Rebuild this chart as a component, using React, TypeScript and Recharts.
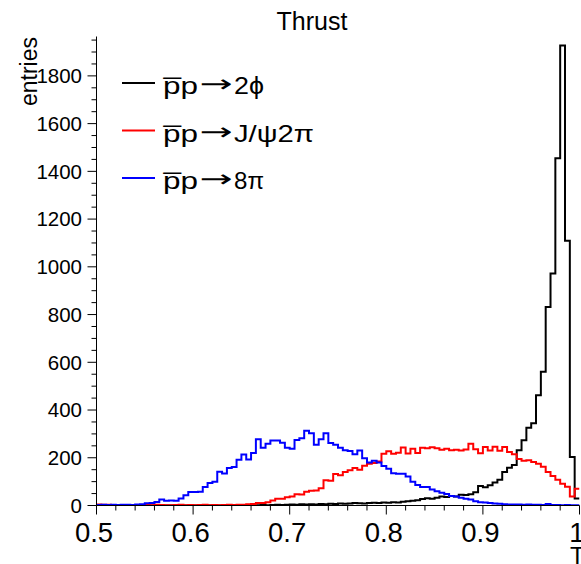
import React from 'react';
import { LineChart, Line, XAxis, YAxis, Legend } from 'recharts';

// ---------- data ----------
const chartTitle = 'Thrust';
const xTitle = 'Thrust';
const yTitle = 'entries';

const seriesNames = ['p\u0305p\u21922\u03d5', 'p\u0305p\u2192J/\u03c82\u03c0', 'p\u0305p\u21928\u03c0'];
const seriesColors = ['#000000', '#ff0000', '#0000ff'];

const histLow = 0.5;
const histBinWidth = 0.005;

// pbar p -> 2 phi  (black)
const phi2Counts = [
  0, 0, 0, 0, 0, 0, 0, 0, 0, 0,
  0, 0, 0, 0, 0, 0, 0, 0, 0, 0,
  0, 0, 0, 0, 0, 0, 0, 0, 0, 0,
  0, 0, 0, 1, 2, 1, 2, 3, 2, 3,
  4, 3, 5, 4, 5, 4, 6, 5, 7, 6,
  8, 7, 8, 10, 9, 8, 10, 12, 10, 13,
  12, 14, 13, 16, 18, 20, 22, 27, 30, 28,
  32, 38, 36, 40, 38, 45, 44, 47, 55, 82,
  76, 85, 96, 108, 140, 158, 170, 231, 273, 326,
  345, 462, 560, 832, 972, 1455, 1927, 1109, 203, 29,
];

// pbar p -> J/psi 2 pi  (red)
const jpsiCounts = [
  4, 3, 3, 2, 1, 1, 2, 1, 1, 0,
  2, 1, 3, 2, 1, 1, 2, 3, 1, 2,
  1, 2, 3, 1, 2, 1, 2, 3, 2, 3,
  3, 5, 6, 11, 11, 14, 21, 28, 28, 35,
  38, 47, 46, 58, 62, 63, 72, 106, 104, 132,
  127, 140, 148, 157, 150, 167, 175, 178, 184, 217,
  227, 217, 221, 243, 218, 238, 220, 242, 240, 244,
  240, 234, 238, 232, 234, 230, 235, 259, 236, 219,
  245, 230, 246, 229, 245, 224, 215, 195, 188, 190,
  182, 175, 162, 140, 124, 108, 91, 79, 38, 70,
];

// pbar p -> 8 pi  (blue)
const pi8Counts = [
  2, 3, 2, 3, 2, 3, 3, 2, 4, 5,
  9, 10, 15, 25, 20, 21, 20, 29, 43, 57,
  57, 58, 77, 94, 99, 141, 134, 157, 161, 192,
  214, 193, 220, 278, 242, 259, 272, 272, 263, 242,
  238, 274, 282, 313, 303, 255, 278, 303, 262, 255,
  242, 232, 228, 215, 230, 198, 180, 188, 180, 165,
  154, 135, 133, 133, 122, 100, 86, 78, 78, 67,
  60, 53, 48, 40, 38, 32, 28, 25, 18, 14,
  13, 11, 8, 7, 5, 4, 4, 4, 3, 4,
  3, 3, 2, 6, 2, 2, 1, 2, 1, 1,
];

const xMajorTicks = [0.5, 0.6, 0.7, 0.8, 0.9, 1.0];
const xTickLabels = ['0.5', '0.6', '0.7', '0.8', '0.9', '1'];
const xMinorTicks = [
  0.52, 0.54, 0.56, 0.58, 0.62, 0.64, 0.66, 0.68, 0.72, 0.74, 0.76, 0.78,
  0.82, 0.84, 0.86, 0.88, 0.92, 0.94, 0.96, 0.98,
];
const yMajorTicks = [0, 200, 400, 600, 800, 1000, 1200, 1400, 1600, 1800];
const yTickLabels = ['0', '200', '400', '600', '800', '1000', '1200', '1400', '1600', '1800'];
const yMinorTicks = [
  50, 100, 150, 250, 300, 350, 450, 500, 550, 650, 700, 750, 850, 900, 950,
  1050, 1100, 1150, 1250, 1300, 1350, 1450, 1500, 1550, 1650, 1700, 1750,
  1850, 1900, 1950,
];
const xDomain = [0.5, 1.0];
const yDomain = [0, 1965];

// ---------- table for the library ----------
const seriesKeys = ['phi2', 'jpsi', 'pi8'];
const seriesData = [phi2Counts, jpsiCounts, pi8Counts];
const nBins = phi2Counts.length;
const tableRows: any[] = [];
for (let i = 0; i <= nBins; i++) {
  const row: any = { x: +(histLow + i * histBinWidth).toFixed(4) };
  seriesKeys.forEach((k, s) => {
    row[k] = seriesData[s][Math.min(i, nBins - 1)];
  });
  tableRows.push(row);
}

const xTicksAll = [...xMajorTicks, ...xMinorTicks].sort((a, b) => a - b);
const yTicksAll = [...yMajorTicks, ...yMinorTicks].sort((a, b) => a - b);

const FONT = '"Liberation Sans", Arial, Helvetica, sans-serif';

const XTick = (props: any) => {
  const { x, y, payload } = props;
  const v = payload.value;
  const mi = xMajorTicks.findIndex((t) => Math.abs(t - v) < 1e-6);
  const major = mi >= 0;
  return (
    <g>
      <line x1={x} x2={x} y1={y} y2={y + (major ? 9 : 5)} stroke="#000" strokeWidth={1} />
      {major && (
        <text x={x - 2.5} y={y + 36.5} textAnchor="middle" fontSize={27.5} fontFamily={FONT} fill="#000">
          {xTickLabels[mi]}
        </text>
      )}
    </g>
  );
};

const YTick = (props: any) => {
  const { x, y, payload } = props;
  const v = payload.value;
  const mi = yMajorTicks.indexOf(v);
  const major = mi >= 0;
  return (
    <g>
      <line x1={x - (major ? 9 : 5)} x2={x} y1={y} y2={y} stroke="#000" strokeWidth={1} />
      {major && (
        <text x={x - 14.5} y={y + 7.3} textAnchor="end" fontSize={20.5} fontFamily={FONT} fill="#000">
          {yTickLabels[mi]}
        </text>
      )}
    </g>
  );
};

// widths (px) of the pieces of each legend label: before arrow, arrow, after arrow
const legendLeftW = 35;
const legendArrowW = 34;
const legendRightW = [30, 80, 30];

const renderLegend = (props: any) => {
  const payload: any[] = props.payload || [];
  return (
    <svg width={240} height={150} style={{ display: 'block', overflow: 'visible' }}>
      {seriesNames.map((name, i) => {
        const item = payload.find((p) => p.value === name);
        const color = (item && item.color) || seriesColors[i];
        const cy = 23 + i * 47.5;
        const parts = name.split('\u2192');
        const tx = 53;
        const arrowCx = tx + legendLeftW + 1 + legendArrowW / 2;
        return (
          <g key={name}>
            <line x1={12} x2={45} y1={cy} y2={cy} stroke={color} strokeWidth={2} />
            <text x={tx} y={cy + 11} fontSize={24} fontFamily={FONT} fill="#000"
              textLength={legendLeftW} lengthAdjust="spacingAndGlyphs">
              {parts[0]}
            </text>
            <text
              transform={`translate(${arrowCx},${cy + 9}) scale(1.65,1)`}
              x={0}
              y={0}
              textAnchor="middle"
              fontSize={24}
              fontFamily='"DejaVu Sans", sans-serif'
              fill="#000"
            >
              {'\u2192'}
            </text>
            <text x={tx + legendLeftW + legendArrowW + 2} y={cy + 11} fontSize={24} fontFamily={FONT} fill="#000"
              textLength={legendRightW[i]} lengthAdjust="spacingAndGlyphs">
              {parts[1]}
            </text>
          </g>
        );
      })}
    </svg>
  );
};

export default function App() {
  return (
    <div style={{ position: 'absolute', left: 0, top: 0, width: 581, height: 564, background: '#fff' }}>
      <svg
        width={581}
        height={36}
        style={{ position: 'absolute', left: 0, top: 0, pointerEvents: 'none' }}
      >
        <text x={312} y={30} textAnchor="middle" fontSize={25} fontFamily={FONT} fill="#000">
          {chartTitle}
        </text>
      </svg>
      <LineChart
        width={581}
        height={564}
        data={tableRows}
        margin={{ top: 36.5, right: 1.5, bottom: 0, left: 0 }}
      >
        <XAxis
          xAxisId="top"
          orientation="top"
          dataKey="x"
          type="number"
          domain={xDomain}
          height={0}
          tick={false}
          tickLine={false}
          axisLine={{ stroke: '#000', strokeWidth: 1 }}
        />
        <XAxis
          dataKey="x"
          type="number"
          domain={xDomain}
          ticks={xTicksAll}
          interval={0}
          allowDataOverflow
          height={58.5}
          tickLine={false}
          tickSize={0}
          tickMargin={0}
          tick={<XTick />}
          axisLine={{ stroke: '#000', strokeWidth: 1 }}
          label={{
            content: () => (
              <text x={570} y={564} textAnchor="start" fontSize={24} fontFamily={FONT} fill="#000">
                {xTitle}
              </text>
            ),
          }}
        />
        <YAxis
          type="number"
          domain={yDomain}
          ticks={yTicksAll}
          interval={0}
          allowDataOverflow
          width={96.5}
          tickLine={false}
          tickSize={0}
          tickMargin={0}
          tick={<YTick />}
          axisLine={{ stroke: '#000', strokeWidth: 1 }}
          label={{
            content: () => (
              <text
                transform="translate(37,37) rotate(-90)"
                textAnchor="end"
                fontSize={23}
                fontFamily={FONT}
                fill="#000"
              >
                {yTitle}
              </text>
            ),
          }}
        />
        <Legend
          layout="vertical"
          align="center"
          verticalAlign="middle"
          content={renderLegend}
          wrapperStyle={{ left: 110, top: 60, width: 240, height: 150 }}
        />
        {seriesKeys.map((k, i) => (
          <Line
            key={k}
            dataKey={k}
            name={seriesNames[i]}
            type="stepAfter"
            stroke={seriesColors[i]}
            strokeWidth={2}
            dot={false}
            activeDot={false}
            isAnimationActive={false}
          />
        ))}
      </LineChart>
    </div>
  );
}
